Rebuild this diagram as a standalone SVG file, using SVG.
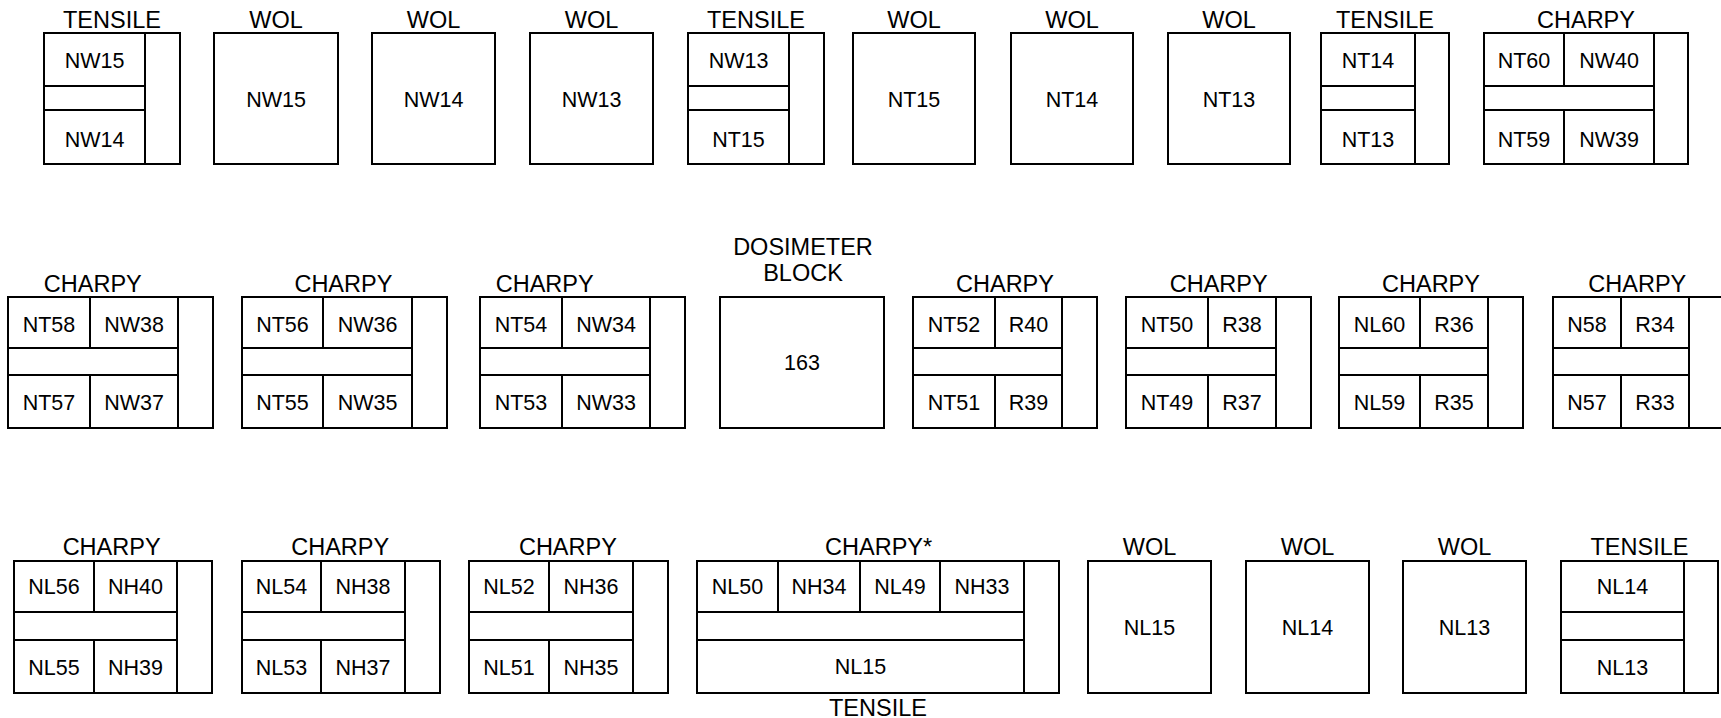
<svg xmlns="http://www.w3.org/2000/svg" width="1721" height="718" viewBox="0 0 1721 718">
<style>
.b{fill:#fff;stroke:#000;stroke-width:2}
.l{stroke:#000;stroke-width:2;fill:none}
text{font-family:"Liberation Sans",Arial,sans-serif;fill:#000;text-anchor:middle}
.h{font-size:23.5px}
.t{font-size:21.5px}
</style>
<rect width="1721" height="718" fill="#fff"/>

<!-- ROW 1 -->
<g id="r1-tensile1">
<text class="h" x="112" y="28.3">TENSILE</text>
<rect class="b" x="44" y="33" width="136" height="131"/>
<path class="l" d="M145 33V164M44 86H145M44 110H145"/>
<text class="t" x="94.5" y="68.3">NW15</text>
<text class="t" x="94.5" y="146.7">NW14</text>
</g>
<g id="r1-wol1">
<text class="h" x="276" y="28.3">WOL</text>
<rect class="b" x="214" y="33" width="124" height="131"/>
<text class="t" x="276" y="107.3">NW15</text>
</g>
<g id="r1-wol2">
<text class="h" x="433.5" y="28.3">WOL</text>
<rect class="b" x="372" y="33" width="123" height="131"/>
<text class="t" x="433.5" y="107.3">NW14</text>
</g>
<g id="r1-wol3">
<text class="h" x="591.5" y="28.3">WOL</text>
<rect class="b" x="530" y="33" width="123" height="131"/>
<text class="t" x="591.5" y="107.3">NW13</text>
</g>
<g id="r1-tensile2">
<text class="h" x="756" y="28.3">TENSILE</text>
<rect class="b" x="688" y="33" width="136" height="131"/>
<path class="l" d="M789 33V164M688 86H789M688 110H789"/>
<text class="t" x="738.5" y="68.3">NW13</text>
<text class="t" x="738.5" y="146.7">NT15</text>
</g>
<g id="r1-wol4">
<text class="h" x="914" y="28.3">WOL</text>
<rect class="b" x="853" y="33" width="122" height="131"/>
<text class="t" x="914" y="107.3">NT15</text>
</g>
<g id="r1-wol5">
<text class="h" x="1072" y="28.3">WOL</text>
<rect class="b" x="1011" y="33" width="122" height="131"/>
<text class="t" x="1072" y="107.3">NT14</text>
</g>
<g id="r1-wol6">
<text class="h" x="1229" y="28.3">WOL</text>
<rect class="b" x="1168" y="33" width="122" height="131"/>
<text class="t" x="1229" y="107.3">NT13</text>
</g>
<g id="r1-tensile3">
<text class="h" x="1385" y="28.3">TENSILE</text>
<rect class="b" x="1321" y="33" width="128" height="131"/>
<path class="l" d="M1415 33V164M1321 86H1415M1321 110H1415"/>
<text class="t" x="1368" y="68.3">NT14</text>
<text class="t" x="1368" y="146.7">NT13</text>
</g>
<g id="r1-charpy1">
<text class="h" x="1586" y="28.3">CHARPY</text>
<rect class="b" x="1484" y="33" width="204" height="131"/>
<path class="l" d="M1654 33V164M1484 86H1654M1484 110H1654M1564 33V86M1564 110V164"/>
<text class="t" x="1524" y="68.3">NT60</text>
<text class="t" x="1609" y="68.3">NW40</text>
<text class="t" x="1524" y="146.7">NT59</text>
<text class="t" x="1609" y="146.7">NW39</text>
</g>

<!-- ROW 2 -->
<g id="r2-charpy1">
<text class="h" x="92.8" y="292.3">CHARPY</text>
<rect class="b" x="8" y="297" width="205" height="131"/>
<path class="l" d="M178 297V428M8 348H178M8 375H178M90 297V348M90 375V428"/>
<text class="t" x="49" y="331.7">NT58</text>
<text class="t" x="134" y="331.7">NW38</text>
<text class="t" x="49" y="410">NT57</text>
<text class="t" x="134" y="410">NW37</text>
</g>
<g id="r2-charpy2">
<text class="h" x="343.4" y="292.3">CHARPY</text>
<rect class="b" x="242" y="297" width="205" height="131"/>
<path class="l" d="M412 297V428M242 348H412M242 375H412M323 297V348M323 375V428"/>
<text class="t" x="282.5" y="331.7">NT56</text>
<text class="t" x="367.5" y="331.7">NW36</text>
<text class="t" x="282.5" y="410">NT55</text>
<text class="t" x="367.5" y="410">NW35</text>
</g>
<g id="r2-charpy3">
<text class="h" x="544.7" y="292.3">CHARPY</text>
<rect class="b" x="480" y="297" width="205" height="131"/>
<path class="l" d="M650 297V428M480 348H650M480 375H650M562 297V348M562 375V428"/>
<text class="t" x="521" y="331.7">NT54</text>
<text class="t" x="606" y="331.7">NW34</text>
<text class="t" x="521" y="410">NT53</text>
<text class="t" x="606" y="410">NW33</text>
</g>
<g id="r2-dosimeter">
<text class="h" x="803" y="254.5">DOSIMETER</text>
<text class="h" x="803" y="281">BLOCK</text>
<rect class="b" x="720" y="297" width="164" height="131"/>
<text class="t" x="802" y="370">163</text>
</g>
<g id="r2-charpy4">
<text class="h" x="1005" y="292.3">CHARPY</text>
<rect class="b" x="913" y="297" width="184" height="131"/>
<path class="l" d="M1062 297V428M913 348H1062M913 375H1062M995 297V348M995 375V428"/>
<text class="t" x="954" y="331.7">NT52</text>
<text class="t" x="1028.5" y="331.7">R40</text>
<text class="t" x="954" y="410">NT51</text>
<text class="t" x="1028.5" y="410">R39</text>
</g>
<g id="r2-charpy5">
<text class="h" x="1218.7" y="292.3">CHARPY</text>
<rect class="b" x="1126" y="297" width="185" height="131"/>
<path class="l" d="M1276 297V428M1126 348H1276M1126 375H1276M1208 297V348M1208 375V428"/>
<text class="t" x="1167" y="331.7">NT50</text>
<text class="t" x="1242" y="331.7">R38</text>
<text class="t" x="1167" y="410">NT49</text>
<text class="t" x="1242" y="410">R37</text>
</g>
<g id="r2-charpy6">
<text class="h" x="1431" y="292.3">CHARPY</text>
<rect class="b" x="1339" y="297" width="184" height="131"/>
<path class="l" d="M1488 297V428M1339 348H1488M1339 375H1488M1420 297V348M1420 375V428"/>
<text class="t" x="1379.5" y="331.7">NL60</text>
<text class="t" x="1454" y="331.7">R36</text>
<text class="t" x="1379.5" y="410">NL59</text>
<text class="t" x="1454" y="410">R35</text>
</g>
<g id="r2-charpy7">
<text class="h" x="1637.3" y="292.3">CHARPY</text>
<rect class="b" x="1553" y="297" width="171" height="131"/>
<path class="l" d="M1689 297V428M1553 348H1689M1553 375H1689M1621 297V348M1621 375V428"/>
<text class="t" x="1587" y="331.7">N58</text>
<text class="t" x="1655" y="331.7">R34</text>
<text class="t" x="1587" y="410">N57</text>
<text class="t" x="1655" y="410">R33</text>
</g>

<!-- ROW 3 -->
<g id="r3-charpy1">
<text class="h" x="111.6" y="555">CHARPY</text>
<rect class="b" x="14" y="561" width="198" height="132"/>
<path class="l" d="M177 561V693M14 612H177M14 640H177M94 561V612M94 640V693"/>
<text class="t" x="54" y="594.3">NL56</text>
<text class="t" x="135.5" y="594.3">NH40</text>
<text class="t" x="54" y="675">NL55</text>
<text class="t" x="135.5" y="675">NH39</text>
</g>
<g id="r3-charpy2">
<text class="h" x="340.2" y="555">CHARPY</text>
<rect class="b" x="242" y="561" width="198" height="132"/>
<path class="l" d="M405 561V693M242 612H405M242 640H405M321 561V612M321 640V693"/>
<text class="t" x="281.5" y="594.3">NL54</text>
<text class="t" x="363" y="594.3">NH38</text>
<text class="t" x="281.5" y="675">NL53</text>
<text class="t" x="363" y="675">NH37</text>
</g>
<g id="r3-charpy3">
<text class="h" x="567.9" y="555">CHARPY</text>
<rect class="b" x="469" y="561" width="199" height="132"/>
<path class="l" d="M633 561V693M469 612H633M469 640H633M549 561V612M549 640V693"/>
<text class="t" x="509" y="594.3">NL52</text>
<text class="t" x="591" y="594.3">NH36</text>
<text class="t" x="509" y="675">NL51</text>
<text class="t" x="591" y="675">NH35</text>
</g>
<g id="r3-charpy4">
<text class="h" x="878.6" y="555">CHARPY*</text>
<rect class="b" x="697" y="561" width="362" height="132"/>
<path class="l" d="M1024 561V693M697 612H1024M697 640H1024M778 561V612M860 561V612M940 561V612"/>
<text class="t" x="737.5" y="594.3">NL50</text>
<text class="t" x="819" y="594.3">NH34</text>
<text class="t" x="900" y="594.3">NL49</text>
<text class="t" x="982" y="594.3">NH33</text>
<text class="t" x="860.5" y="674">NL15</text>
<text class="h" x="878" y="716">TENSILE</text>
</g>
<g id="r3-wol1">
<text class="h" x="1149.5" y="555">WOL</text>
<rect class="b" x="1088" y="561" width="123" height="132"/>
<text class="t" x="1149.5" y="635">NL15</text>
</g>
<g id="r3-wol2">
<text class="h" x="1307.5" y="555">WOL</text>
<rect class="b" x="1246" y="561" width="123" height="132"/>
<text class="t" x="1307.5" y="635">NL14</text>
</g>
<g id="r3-wol3">
<text class="h" x="1464.5" y="555">WOL</text>
<rect class="b" x="1403" y="561" width="123" height="132"/>
<text class="t" x="1464.5" y="635">NL13</text>
</g>
<g id="r3-tensile1">
<text class="h" x="1639.5" y="555">TENSILE</text>
<rect class="b" x="1561" y="561" width="157" height="132"/>
<path class="l" d="M1684 561V693M1561 612H1684M1561 640H1684"/>
<text class="t" x="1622.5" y="594.3">NL14</text>
<text class="t" x="1622.5" y="675">NL13</text>
</g>

<g id="connectors"></g>
</svg>
